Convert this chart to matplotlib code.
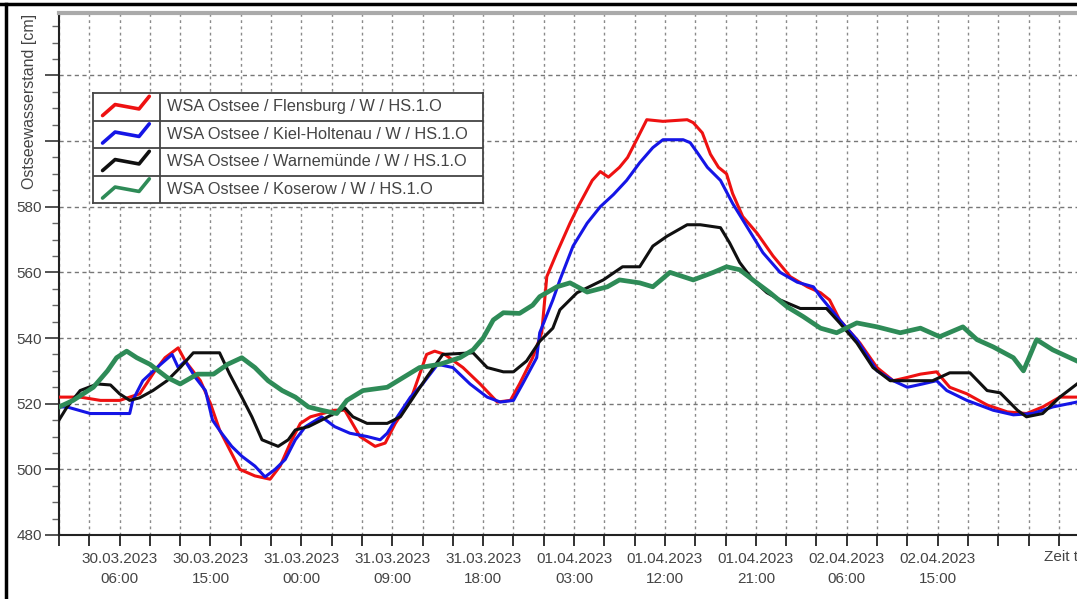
import numpy as np
import pandas as pd
import matplotlib
matplotlib.use('Agg')
import matplotlib.pyplot as plt
import matplotlib.dates as mdates
from matplotlib.lines import Line2D
from matplotlib.ticker import MultipleLocator, FuncFormatter

plt.rcParams['font.family'] = ['Liberation Sans', 'DejaVu Sans']

START = pd.Timestamp('2023-03-30 00:00')
END_H = 100.8

# hours after START / water level [cm]
flensburg_h = [0, 2.1, 4.1, 6.0, 8.0, 9.5, 10.5, 11.8, 12.5, 14.0, 15.0, 15.9, 16.9, 17.9, 19.4,
               20.9, 21.9, 22.9, 23.9, 24.9, 27.3, 28.3, 29.8, 31.3, 32.3, 33.3, 34.8, 36.4, 37.2,
               38.2, 40.0, 41.7, 43.4, 44.7, 45.6, 46.9, 47.8, 48.3, 49.3, 50.6, 51.4, 52.8, 53.6,
               54.4, 55.5, 56.3, 57.2, 58.2, 59.8, 62.2, 62.8, 63.7, 64.5, 65.3, 66.1, 66.7, 67.7,
               69.1, 70.7, 72.4, 74.1, 75.4, 76.3, 77.3, 79.3, 81.0, 82.6, 84.0, 85.3, 86.9, 88.2,
               89.9, 91.9, 93.9, 95.8, 97.4, 99.1, 100.8]
flensburg_cm = [522, 522, 521, 521, 523, 530, 534, 537, 533, 527, 520, 512, 506, 500, 498,
                497, 501, 508, 514, 516, 518, 518, 510, 507, 508, 514, 521, 535, 536,
                535, 531, 526, 520.5, 521, 526, 534, 541.6, 558.7, 566, 575, 580, 588, 590.7,
                589, 592, 595, 600.4, 606.5, 606, 606.5, 605.6, 602.5, 596, 592, 590, 584, 577,
                572, 565, 558.7, 555.6, 553.8, 551.6, 545.5, 538.5, 531, 527, 528, 529, 529.7, 525,
                523, 519.6, 517.5, 517, 519, 522, 522]

kiel_h = [0, 0.8, 3.1, 7.0, 7.3, 8.3, 9.7, 11.2, 11.8, 12.5, 13.5, 14.5, 15.2, 16.1, 17.1,
          18.1, 19.4, 20.4, 21.4, 22.4, 23.4, 24.4, 26.0, 27.3, 28.8, 30.5, 31.8, 32.5, 33.5,
          34.8, 36.0, 37.5, 39.0, 40.7, 42.4, 43.7, 45.0, 45.9, 47.3, 47.6, 48.9, 49.6, 50.9,
          52.3, 53.6, 54.9, 56.2, 57.5, 58.8, 59.8, 61.8, 62.5, 63.2, 64.2, 65.5, 66.7, 68.1,
          69.7, 71.4, 73.1, 74.7, 75.4, 77.3, 79.0, 81.0, 82.6, 84.0, 85.5, 86.9, 87.9, 89.9,
          92.5, 94.5, 96.4, 98.4, 100.8]
kiel_cm = [519, 519, 517, 517, 521, 527, 531, 535, 531, 533, 528, 524, 515, 511, 507,
           504, 501, 497.7, 500, 503, 509, 513, 516, 513, 511, 510, 509, 511, 516,
           522, 526, 532, 531, 526, 522, 520.5, 521, 526, 534, 541.6, 551.6, 557.7, 568,
           575, 580, 583.7, 588, 593.4, 598, 600.4, 600.4, 599.5, 596.5, 592, 588, 581, 574,
           566, 560, 557, 555.6, 552.6, 545.5, 539.5, 530, 527, 525, 526, 527, 524, 521,
           518, 516.6, 517, 519, 520.5]

warnemuende_h = [0, 0.8, 2.1, 3.8, 5.1, 6.0, 7.0, 8.0, 9.3, 10.7, 12.0, 13.3, 15.9, 16.9, 18.1,
                 19.1, 20.1, 21.7, 22.7, 23.4, 24.7, 26.0, 28.3, 29.1, 30.5, 32.5, 33.8, 35.1,
                 36.4, 38.0, 41.0, 42.4, 44.0, 45.0, 46.3, 47.6, 48.9, 49.6, 51.3, 53.9, 55.8,
                 57.5, 58.8, 60.2, 62.2, 63.5, 65.5, 66.4, 67.4, 68.7, 70.1, 71.4, 73.4, 76.0,
                 77.3, 79.0, 80.6, 82.3, 86.5, 88.2, 90.2, 91.9, 93.2, 94.9, 95.8, 97.4, 99.1, 100.8]
warnemuende_cm = [515, 519, 524, 526, 525.7, 523, 521, 521.8, 524, 527, 531, 535.5, 535.5, 529, 522,
                  516, 509, 507, 509, 512, 513, 515, 518.7, 516, 514, 514, 516, 522,
                  528, 535, 535.5, 531, 529.7, 529.7, 533, 539, 543, 548.6, 553.8, 557.7, 561.7,
                  561.7, 568, 571, 574.5, 574.5, 573.6, 569, 563, 557.7, 553.8, 551.6, 549, 549,
                  544.6, 538.5, 531, 527, 527, 529.4, 529.4, 524, 523.3, 518, 516, 517, 522, 526]

koserow_h = [0, 1.4, 3.4, 4.8, 5.7, 6.7, 7.7, 9.0, 10.7, 12.0, 13.7, 15.3, 16.7, 18.1, 19.4,
             20.7, 22.1, 23.4, 24.7, 26.0, 27.5, 28.5, 30.1, 32.5, 34.1, 35.7, 37.7, 39.7, 41.0,
             42.0, 43.0, 44.0, 45.6, 46.9, 47.6, 49.3, 50.6, 52.3, 54.3, 55.5, 57.5, 58.8, 60.5,
             62.8, 64.8, 66.1, 67.4, 68.7, 70.4, 72.1, 73.7, 75.4, 77.0, 79.0, 81.0, 83.3, 85.3,
             87.2, 89.5, 90.9, 92.5, 94.5, 95.5, 96.8, 98.4, 100.8]
koserow_cm = [519, 521, 525, 530, 534, 536, 534, 532, 528, 526, 529, 529, 532, 534, 531,
              527, 524, 522, 519, 518, 517, 521, 524, 525, 528, 531, 532, 534, 536.4,
              540, 545.5, 547.7, 547.5, 550, 552.6, 555.6, 556.8, 554, 555.6, 557.7, 556.8, 555.6, 560,
              557.7, 560, 561.7, 560.8, 557.7, 553.8, 549.5, 546.5, 543, 541.6, 544.6, 543.4, 541.6, 543,
              540.4, 543.4, 539.5, 537.3, 534, 530, 539.5, 536.4, 533]

series = [
    ('WSA Ostsee / Flensburg / W / HS.1.O', flensburg_h, flensburg_cm, '#ee1111', 2.2),
    ('WSA Ostsee / Kiel-Holtenau / W / HS.1.O', kiel_h, kiel_cm, '#1515e6', 2.2),
    ('WSA Ostsee / Warnemünde / W / HS.1.O', warnemuende_h, warnemuende_cm, '#101010', 2.2),
    ('WSA Ostsee / Koserow / W / HS.1.O', koserow_h, koserow_cm, '#2e8b57', 3.4),
]

# zig-zag shape of the legend symbol (row coords)
icon_x = [0.08, 0.30, 0.72, 0.90]
icon_y = [0.18, 0.58, 0.42, 0.88]

W, H = 1077, 599
fig = plt.figure(figsize=(W / 100, H / 100), dpi=100)
fig.patch.set_facecolor('white')

ax = fig.add_axes([59 / W, 64 / H, 1 - 59 / W, 522 / H])

def to_time(hours):
    return START + pd.to_timedelta(np.array(hours), unit='h')

for name, hrs, vals, col, lw in series:
    ax.plot(to_time(hrs), vals, color=col, lw=lw, zorder=3)

ax.set_xlim(START, START + pd.Timedelta(hours=END_H))
ax.set_ylim(480, 639)

ax.xaxis.set_major_locator(mdates.HourLocator(byhour=range(0, 24, 3)))

def fmt_x(x, pos):
    t = pd.Timestamp(mdates.num2date(x).replace(tzinfo=None))
    h = round((t - START) / pd.Timedelta(hours=1))
    if (h - 6) % 9 == 0 and h <= 87:
        return t.strftime('%d.%m.%Y\n%H:%M')
    return ''

ax.xaxis.set_major_formatter(FuncFormatter(fmt_x))
ax.yaxis.set_major_locator(MultipleLocator(20))
ax.yaxis.set_minor_locator(MultipleLocator(5))
ax.yaxis.set_major_formatter(FuncFormatter(lambda v, p: '%d' % v if v <= 580 else ''))

ax.tick_params(axis='x', which='major', length=8, width=1.3, color='#222', pad=4,
               labelsize=11, labelcolor='#444')
ax.tick_params(axis='y', which='major', length=10, width=1.3, color='#444', pad=2,
               labelsize=11, labelcolor='#444')
ax.tick_params(axis='y', which='minor', length=5, width=1, color='#666')
for lab in ax.get_xticklabels():
    lab.set_linespacing(1.6)

ax.grid(axis='y', which='major', color='#777777', lw=1.0, ls=(0, (3, 2.5)), zorder=1)
ax.grid(axis='x', which='major', color='#8a8a8a', lw=1.0, ls=(0, (2, 2.5)), zorder=1)

ax.spines['right'].set_visible(False)
ax.spines['top'].set_color('#aaaaaa')
ax.spines['top'].set_linewidth(3)
ax.spines['left'].set_color('#222222')
ax.spines['left'].set_linewidth(1.5)
ax.spines['bottom'].set_color('#222222')
ax.spines['bottom'].set_linewidth(1.5)

fig.text(30 / W, 1 - 14 / H, 'Ostseewasserstand [cm]', rotation=90, ha='center', va='top',
         fontsize=11.5, color='#444')
fig.text(1044 / W, 1 - 557 / H, 'Zeit t', ha='left', va='center', fontsize=11, color='#444')

# screenshot window frame (top and left)
fig.add_artist(Line2D([0, 1], [1 - 4 / H, 1 - 4 / H], transform=fig.transFigure, color='black', lw=2.5))
fig.add_artist(Line2D([6 / W, 6 / W], [0, 1 - 4 / H], transform=fig.transFigure, color='black', lw=2.5))

# legend drawn as a small table
lg = fig.add_axes([93 / W, 1 - 203 / H, 390 / W, 110 / H], zorder=5)
lg.set_xlim(0, 390)
lg.set_ylim(0, len(series))
lg.set_xticks([])
lg.set_yticks([])
lg.set_facecolor('white')
for s in lg.spines.values():
    s.set_color('#444')
    s.set_linewidth(1.3)
lg.axvline(67, color='#444', lw=1.3)
for i in range(1, len(series)):
    lg.axhline(i, color='#444', lw=1.3)
for i, (name, hrs, vals, col, lw) in enumerate(series):
    row = len(series) - 1 - i
    lg.plot([5 + 57 * v for v in icon_x], [row + v for v in icon_y], color=col, lw=2.6,
            solid_capstyle='round')
    lg.text(74, row + 0.5, name, va='center', ha='left', fontsize=11.8, color='#444')

fig.savefig('out.png', dpi=100, facecolor='white')
